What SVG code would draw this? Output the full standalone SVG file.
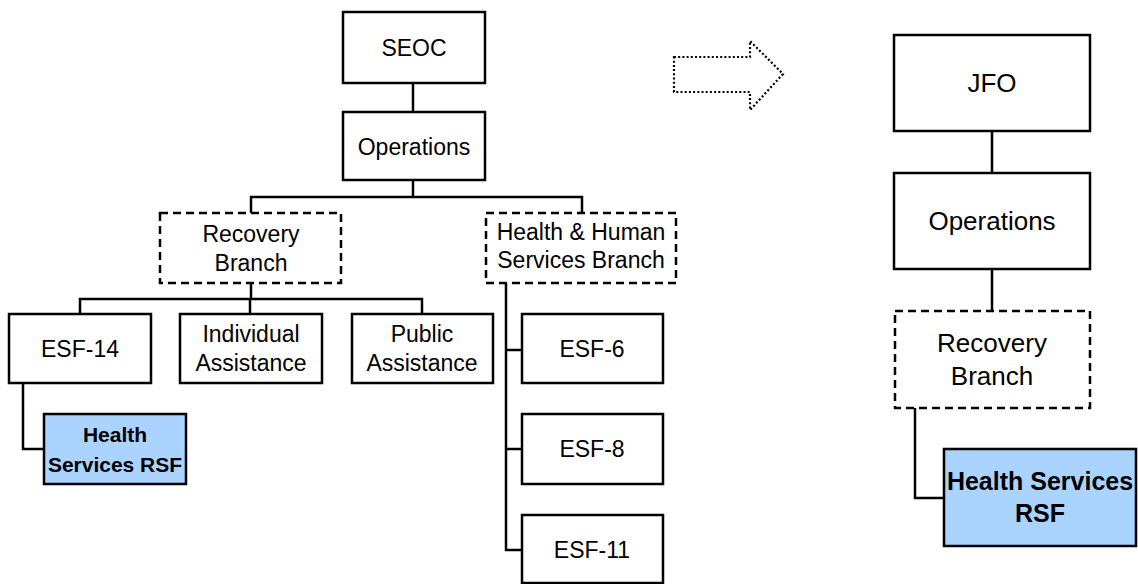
<svg xmlns="http://www.w3.org/2000/svg" width="1138" height="584" viewBox="0 0 1138 584">
  <style>
    .box { fill: #ffffff; stroke: #000000; stroke-width: 2.5; }
    .dash { fill: #ffffff; stroke: #000000; stroke-width: 2.5; stroke-dasharray: 8 5; }
    .rsf { fill: #abd3ff; stroke: #000000; stroke-width: 2.5; }
    .wire { fill: none; stroke: #000000; stroke-width: 2.5; }
    .arrow { fill: none; stroke: #000000; stroke-width: 2.2; stroke-dasharray: 2 2.2; }
    text { font-family: "Liberation Sans", Arial, sans-serif; fill: #000000; text-anchor: middle; }
    .s { font-size: 23px; }
    .l { font-size: 26px; }
    .b { font-weight: bold; font-size: 21px; }
    .bl { font-weight: bold; font-size: 25px; }
  </style>

  <!-- connectors -->
  <g id="connectors">
    <!-- left chart -->
    <line class="wire" x1="413" y1="83" x2="413" y2="112"/>
    <polyline class="wire" points="413,180 413,197"/>
    <polyline class="wire" points="251,213 251,197 582,197 582,213"/>
    <polyline class="wire" points="251,283 251,299"/>
    <polyline class="wire" points="80,314 80,299 422,299 422,314"/>
    <line class="wire" x1="250" y1="299" x2="250" y2="314"/>
    <polyline class="wire" points="23,383 23,449 44,449"/>
    <polyline class="wire" points="506,283 506,550 522,550"/>
    <line class="wire" x1="506" y1="350" x2="522" y2="350"/>
    <line class="wire" x1="506" y1="449" x2="522" y2="449"/>
    <!-- right chart -->
    <line class="wire" x1="992" y1="131" x2="992" y2="173"/>
    <line class="wire" x1="992" y1="269" x2="992" y2="311"/>
    <polyline class="wire" points="915,408 915,498 944,498"/>
  </g>

  <!-- dotted transition arrow -->
  <g id="transition-arrow">
    <polygon class="arrow" points="674,57 750,57 750,41 783,74 750,110 750,92 674,92"/>
  </g>

  <!-- left chart nodes -->
  <g id="seoc">
    <rect class="box" x="343" y="12" width="142" height="71"/>
    <text class="s" x="414" y="56">SEOC</text>
  </g>
  <g id="operations-left">
    <rect class="box" x="343" y="112" width="142" height="68"/>
    <text class="s" x="414" y="155">Operations</text>
  </g>
  <g id="recovery-branch-left">
    <rect class="dash" x="160" y="213" width="181" height="70"/>
    <text class="s" x="251" y="242">Recovery</text>
    <text class="s" x="251" y="271">Branch</text>
  </g>
  <g id="hhs-branch">
    <rect class="dash" x="486" y="213" width="190" height="70"/>
    <text class="s" x="581" y="240">Health &amp; Human</text>
    <text class="s" x="581" y="268">Services Branch</text>
  </g>
  <g id="esf-14">
    <rect class="box" x="9" y="314" width="142" height="69"/>
    <text class="s" x="80" y="357">ESF-14</text>
  </g>
  <g id="individual-assistance">
    <rect class="box" x="180" y="314" width="142" height="69"/>
    <text class="s" x="251" y="342">Individual</text>
    <text class="s" x="251" y="371">Assistance</text>
  </g>
  <g id="public-assistance">
    <rect class="box" x="352" y="314" width="141" height="69"/>
    <text class="s" x="422" y="342">Public</text>
    <text class="s" x="422" y="371">Assistance</text>
  </g>
  <g id="health-services-rsf-left">
    <rect class="rsf" x="44" y="414" width="142" height="70"/>
    <text class="b" x="115" y="442">Health</text>
    <text class="b" x="115" y="472">Services RSF</text>
  </g>
  <g id="esf-6">
    <rect class="box" x="522" y="314" width="141" height="69"/>
    <text class="s" x="592" y="357">ESF-6</text>
  </g>
  <g id="esf-8">
    <rect class="box" x="522" y="414" width="141" height="70"/>
    <text class="s" x="592" y="457">ESF-8</text>
  </g>
  <g id="esf-11">
    <rect class="box" x="522" y="515" width="141" height="68"/>
    <text class="s" x="592" y="558">ESF-11</text>
  </g>

  <!-- right chart nodes -->
  <g id="jfo">
    <rect class="box" x="894" y="35" width="196" height="96"/>
    <text class="l" x="992" y="92">JFO</text>
  </g>
  <g id="operations-right">
    <rect class="box" x="894" y="173" width="196" height="96"/>
    <text class="l" x="992" y="230">Operations</text>
  </g>
  <g id="recovery-branch-right">
    <rect class="dash" x="895" y="311" width="195" height="97"/>
    <text class="l" x="992" y="352">Recovery</text>
    <text class="l" x="992" y="385">Branch</text>
  </g>
  <g id="health-services-rsf-right">
    <rect class="rsf" x="944" y="449" width="192" height="97"/>
    <text class="bl" x="1040" y="490">Health Services</text>
    <text class="bl" x="1040" y="522">RSF</text>
  </g>
</svg>
